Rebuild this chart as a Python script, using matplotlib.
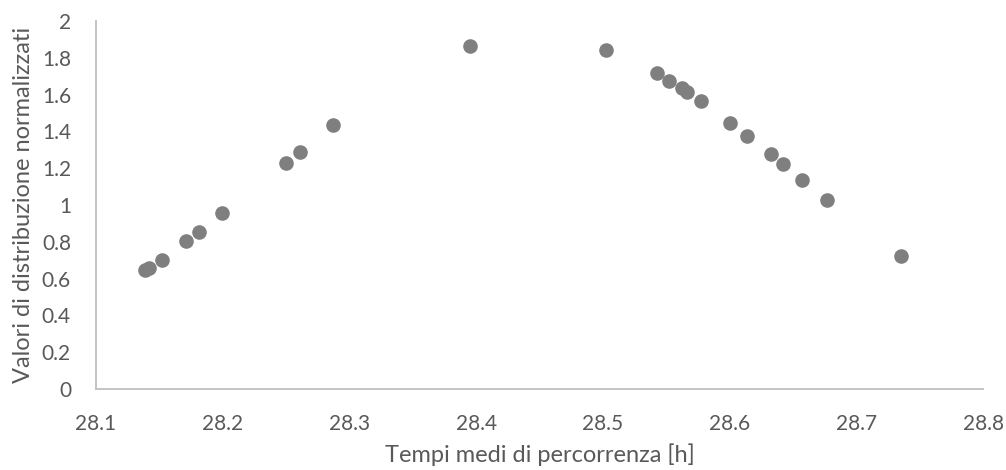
import matplotlib.pyplot as plt

# Dati
tempi = [28.139, 28.142, 28.152, 28.171, 28.1815, 28.1997, 28.2497, 28.2608, 28.287, 28.3954,
         28.5025, 28.5428, 28.5525, 28.5628, 28.5667, 28.5773, 28.6007, 28.6138, 28.6325,
         28.642, 28.6575, 28.677, 28.735]
valori = [0.648, 0.657, 0.703, 0.802, 0.853, 0.954, 1.229, 1.290, 1.433, 1.862,
          1.844, 1.716, 1.676, 1.634, 1.614, 1.564, 1.446, 1.374, 1.278,
          1.222, 1.135, 1.027, 0.721]
x_ticks = [28.1, 28.2, 28.3, 28.4, 28.5, 28.6, 28.7, 28.8]
y_ticks = [0, 0.2, 0.4, 0.6, 0.8, 1, 1.2, 1.4, 1.6, 1.8, 2]

plt.rcParams['font.family'] = ['Lato', 'DejaVu Sans']
testo = '#595959'

fig = plt.figure(figsize=(10.06, 4.70), dpi=100)
ax = fig.add_axes([96 / 1006, 81 / 470, 887 / 1006, 368 / 470])

ax.scatter(tempi, valori, s=90, color='#7f7f7f', zorder=3, clip_on=False)

ax.set_xlim(28.1, 28.8)
ax.set_ylim(0, 2)
ax.set_xticks(x_ticks)
ax.set_xticklabels([str(t) for t in x_ticks])
ax.set_yticks(y_ticks)
ax.set_yticklabels([('%g' % t) for t in y_ticks])

for lato in ['top', 'right']:
    ax.spines[lato].set_visible(False)
for lato in ['left', 'bottom']:
    ax.spines[lato].set_color('#bfbfbf')
    ax.spines[lato].set_linewidth(1.3)

ax.tick_params(length=0, labelsize=15, labelcolor=testo)
ax.tick_params(axis='x', pad=18)
ax.tick_params(axis='y', pad=18)

ax.set_xlabel('Tempi medi di percorrenza [h]', fontsize=17, color=testo, labelpad=7)
ax.set_ylabel('Valori di distribuzione normalizzati', fontsize=17, color=testo, labelpad=6)

fig.savefig('out.png', dpi=100)
